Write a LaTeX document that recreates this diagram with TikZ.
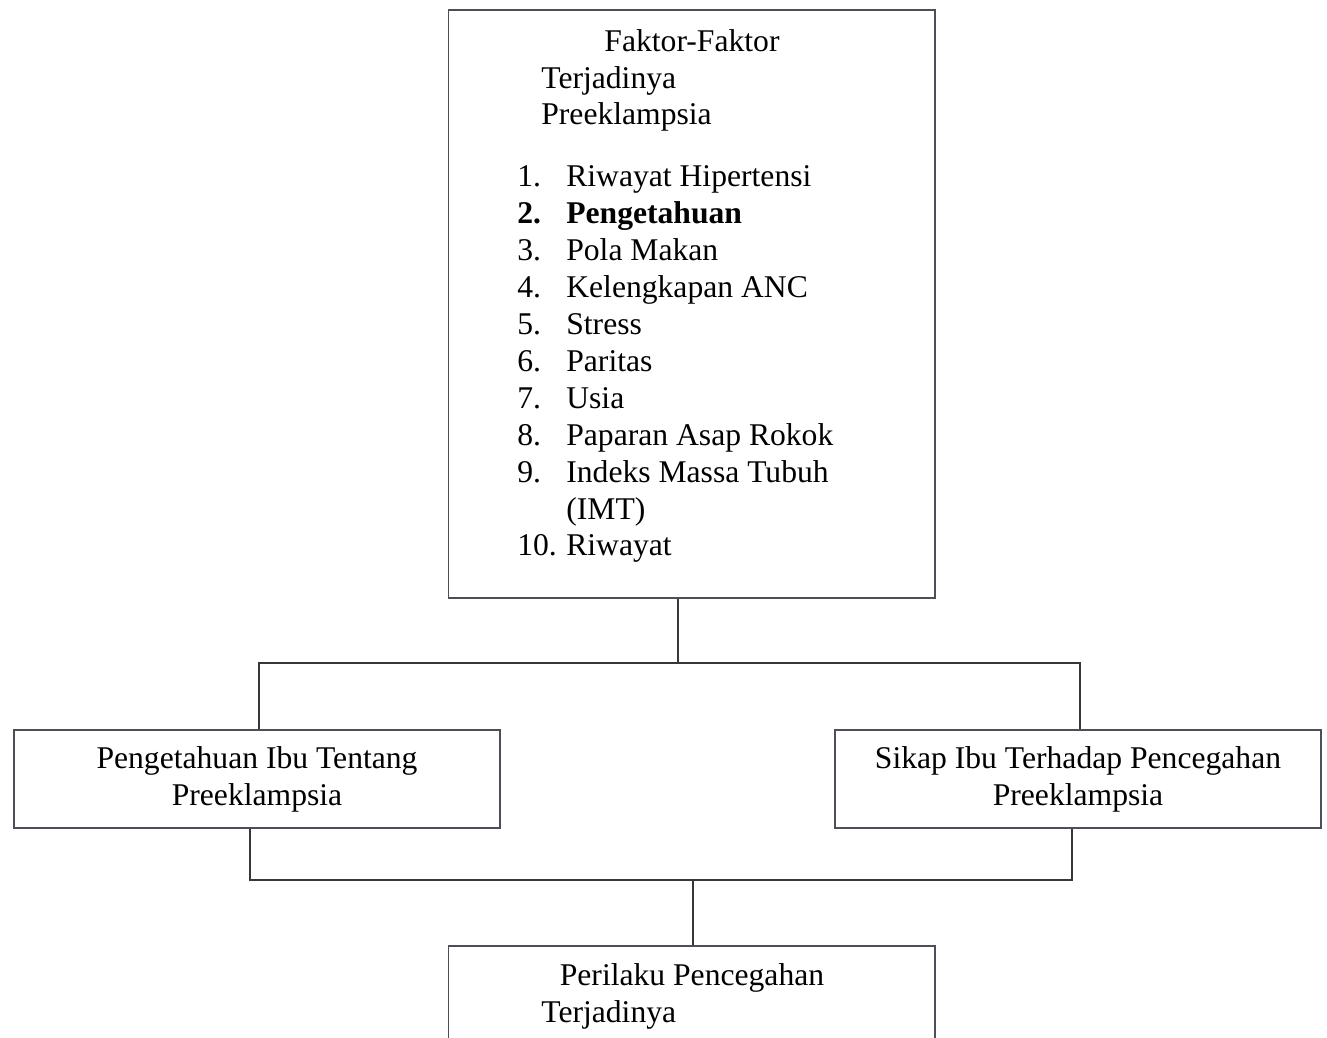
\documentclass[tikz,border=0pt]{standalone}
\usepackage{fontspec}
\setmainfont{Liberation Serif}
\definecolor{garisbox}{RGB}{78,78,90}
\definecolor{garishub}{RGB}{55,55,55}

\begin{document}
\begin{tikzpicture}[x=0.02cm, y=-0.02cm,
    kotak/.style={draw=garisbox, line width=0.9pt, inner sep=0pt, minimum width=9.73cm},
    teks/.style={font=\fontsize{18}{21}\selectfont, inner sep=0pt},
    hub/.style={draw=garishub, line width=1.1pt}]

  \useasboundingbox (0,0) rectangle (1327,1037);

  % ====== kotak atas : faktor-faktor ======
  \node[kotak, minimum height=11.76cm] (faktor) at (691.5,304) {};
  \node[teks, anchor=base] (judul1) at (692,52) {Faktor-Faktor};
  \node[teks, anchor=base west] (judul2) at (541,88.5) {Terjadinya};
  \node[teks, anchor=base west] (judul3) at (541,125) {Preeklampsia};
  \node[teks, anchor=base west] (daftar) at (517,187) {%
    \begin{tabular}[t]{@{}p{0.98cm}@{}l@{}}
      1. & Riwayat Hipertensi\\
      \textbf{2.} & \textbf{Pengetahuan}\\
      3. & Pola Makan\\
      4. & Kelengkapan ANC\\
      5. & Stress\\
      6. & Paritas\\
      7. & Usia\\
      8. & Paparan Asap Rokok\\
      9. & Indeks Massa Tubuh\\
         & (IMT)\\
      10. & Riwayat
    \end{tabular}};

  % ====== kotak tengah ======
  \node[kotak, teks, draw=garisbox, minimum width=9.72cm, minimum height=1.96cm,
        align=center, text depth=0.12cm] (pengetahuan) at (257,779)
        {Pengetahuan Ibu Tentang\\Preeklampsia};
  \node[kotak, teks, draw=garisbox, minimum width=9.72cm, minimum height=1.96cm,
        align=center, text depth=0.12cm] (sikap) at (1078,779)
        {Sikap Ibu Terhadap Pencegahan\\Preeklampsia};

  % ====== kotak bawah : perilaku ======
  \node[kotak, minimum height=3cm] (perilaku) at (691.5,1021) {};
  \node[teks, anchor=base] (judul4) at (692,985) {Perilaku Pencegahan};
  \node[teks, anchor=base west] (judul5) at (541,1022) {Terjadinya};

  % ====== garis penghubung ======
  \coordinate (cabangAtas) at (678,663);
  \coordinate (atasKiri) at (259,663);
  \coordinate (atasKanan) at (1080,663);
  \draw[hub] (faktor.south -| cabangAtas) -- (cabangAtas);
  \draw[hub] (pengetahuan.north -| atasKiri) -- (atasKiri) -- (atasKanan)
    -- (sikap.north -| atasKanan);

  \coordinate (cabangBawah) at (693,880);
  \coordinate (bawahKiri) at (250,880);
  \coordinate (bawahKanan) at (1072,880);
  \draw[hub] (pengetahuan.south -| bawahKiri) -- (bawahKiri) -- (bawahKanan)
    -- (sikap.south -| bawahKanan);
  \draw[hub] (cabangBawah) -- (perilaku.north -| cabangBawah);

\end{tikzpicture}
\end{document}
